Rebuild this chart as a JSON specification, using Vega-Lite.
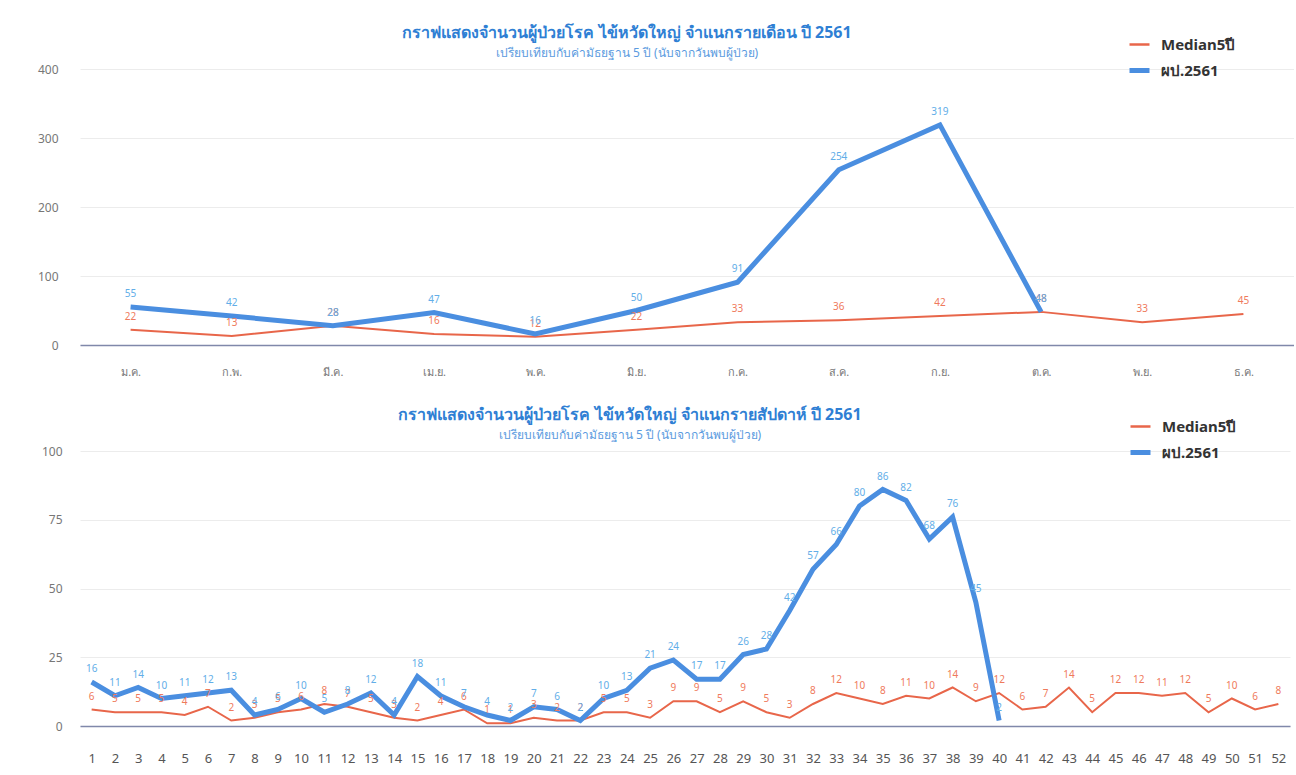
{
  "$schema": "https://vega.github.io/schema/vega-lite/v6.json",
  "padding": {"left": 20, "top": 25, "right": 0, "bottom": 0},
  "background": "white",
  "config": {
    "font": "Noto Sans",
    "view": {"stroke": null},
    "legend": {
      "orient": "none",
      "legendX": 1052,
      "legendY": -32,
      "title": null,
      "labelFontSize": 15,
      "labelFontWeight": "bold",
      "labelColor": "#333333",
      "symbolType": "stroke",
      "symbolSize": 400,
      "symbolStrokeWidth": 3,
      "rowPadding": 7,
      "labelOffset": 14
    }
  },
  "datasets": {
    "monthly": [
      {"month": "ม.ค.", "series": "Median5ปี", "value": 22},
      {"month": "ก.พ.", "series": "Median5ปี", "value": 13},
      {"month": "มี.ค.", "series": "Median5ปี", "value": 28},
      {"month": "เม.ย.", "series": "Median5ปี", "value": 16},
      {"month": "พ.ค.", "series": "Median5ปี", "value": 12},
      {"month": "มิ.ย.", "series": "Median5ปี", "value": 22},
      {"month": "ก.ค.", "series": "Median5ปี", "value": 33},
      {"month": "ส.ค.", "series": "Median5ปี", "value": 36},
      {"month": "ก.ย.", "series": "Median5ปี", "value": 42},
      {"month": "ต.ค.", "series": "Median5ปี", "value": 48},
      {"month": "พ.ย.", "series": "Median5ปี", "value": 33},
      {"month": "ธ.ค.", "series": "Median5ปี", "value": 45},
      {"month": "ม.ค.", "series": "ผป.2561", "value": 55},
      {"month": "ก.พ.", "series": "ผป.2561", "value": 42},
      {"month": "มี.ค.", "series": "ผป.2561", "value": 28},
      {"month": "เม.ย.", "series": "ผป.2561", "value": 47},
      {"month": "พ.ค.", "series": "ผป.2561", "value": 16},
      {"month": "มิ.ย.", "series": "ผป.2561", "value": 50},
      {"month": "ก.ค.", "series": "ผป.2561", "value": 91},
      {"month": "ส.ค.", "series": "ผป.2561", "value": 254},
      {"month": "ก.ย.", "series": "ผป.2561", "value": 319},
      {"month": "ต.ค.", "series": "ผป.2561", "value": 48}
    ],
    "weekly": [
      {"week": 1, "series": "Median5ปี", "value": 6},
      {"week": 2, "series": "Median5ปี", "value": 5},
      {"week": 3, "series": "Median5ปี", "value": 5},
      {"week": 4, "series": "Median5ปี", "value": 5},
      {"week": 5, "series": "Median5ปี", "value": 4},
      {"week": 6, "series": "Median5ปี", "value": 7},
      {"week": 7, "series": "Median5ปี", "value": 2},
      {"week": 8, "series": "Median5ปี", "value": 3},
      {"week": 9, "series": "Median5ปี", "value": 5},
      {"week": 10, "series": "Median5ปี", "value": 6},
      {"week": 11, "series": "Median5ปี", "value": 8},
      {"week": 12, "series": "Median5ปี", "value": 7},
      {"week": 13, "series": "Median5ปี", "value": 5},
      {"week": 14, "series": "Median5ปี", "value": 3},
      {"week": 15, "series": "Median5ปี", "value": 2},
      {"week": 16, "series": "Median5ปี", "value": 4},
      {"week": 17, "series": "Median5ปี", "value": 6},
      {"week": 18, "series": "Median5ปี", "value": 1},
      {"week": 19, "series": "Median5ปี", "value": 1},
      {"week": 20, "series": "Median5ปี", "value": 3},
      {"week": 21, "series": "Median5ปี", "value": 2},
      {"week": 22, "series": "Median5ปี", "value": 2},
      {"week": 23, "series": "Median5ปี", "value": 5},
      {"week": 24, "series": "Median5ปี", "value": 5},
      {"week": 25, "series": "Median5ปี", "value": 3},
      {"week": 26, "series": "Median5ปี", "value": 9},
      {"week": 27, "series": "Median5ปี", "value": 9},
      {"week": 28, "series": "Median5ปี", "value": 5},
      {"week": 29, "series": "Median5ปี", "value": 9},
      {"week": 30, "series": "Median5ปี", "value": 5},
      {"week": 31, "series": "Median5ปี", "value": 3},
      {"week": 32, "series": "Median5ปี", "value": 8},
      {"week": 33, "series": "Median5ปี", "value": 12},
      {"week": 34, "series": "Median5ปี", "value": 10},
      {"week": 35, "series": "Median5ปี", "value": 8},
      {"week": 36, "series": "Median5ปี", "value": 11},
      {"week": 37, "series": "Median5ปี", "value": 10},
      {"week": 38, "series": "Median5ปี", "value": 14},
      {"week": 39, "series": "Median5ปี", "value": 9},
      {"week": 40, "series": "Median5ปี", "value": 12},
      {"week": 41, "series": "Median5ปี", "value": 6},
      {"week": 42, "series": "Median5ปี", "value": 7},
      {"week": 43, "series": "Median5ปี", "value": 14},
      {"week": 44, "series": "Median5ปี", "value": 5},
      {"week": 45, "series": "Median5ปี", "value": 12},
      {"week": 46, "series": "Median5ปี", "value": 12},
      {"week": 47, "series": "Median5ปี", "value": 11},
      {"week": 48, "series": "Median5ปี", "value": 12},
      {"week": 49, "series": "Median5ปี", "value": 5},
      {"week": 50, "series": "Median5ปี", "value": 10},
      {"week": 51, "series": "Median5ปี", "value": 6},
      {"week": 52, "series": "Median5ปี", "value": 8},
      {"week": 1, "series": "ผป.2561", "value": 16},
      {"week": 2, "series": "ผป.2561", "value": 11},
      {"week": 3, "series": "ผป.2561", "value": 14},
      {"week": 4, "series": "ผป.2561", "value": 10},
      {"week": 5, "series": "ผป.2561", "value": 11},
      {"week": 6, "series": "ผป.2561", "value": 12},
      {"week": 7, "series": "ผป.2561", "value": 13},
      {"week": 8, "series": "ผป.2561", "value": 4},
      {"week": 9, "series": "ผป.2561", "value": 6},
      {"week": 10, "series": "ผป.2561", "value": 10},
      {"week": 11, "series": "ผป.2561", "value": 5},
      {"week": 12, "series": "ผป.2561", "value": 8},
      {"week": 13, "series": "ผป.2561", "value": 12},
      {"week": 14, "series": "ผป.2561", "value": 4},
      {"week": 15, "series": "ผป.2561", "value": 18},
      {"week": 16, "series": "ผป.2561", "value": 11},
      {"week": 17, "series": "ผป.2561", "value": 7},
      {"week": 18, "series": "ผป.2561", "value": 4},
      {"week": 19, "series": "ผป.2561", "value": 2},
      {"week": 20, "series": "ผป.2561", "value": 7},
      {"week": 21, "series": "ผป.2561", "value": 6},
      {"week": 22, "series": "ผป.2561", "value": 2},
      {"week": 23, "series": "ผป.2561", "value": 10},
      {"week": 24, "series": "ผป.2561", "value": 13},
      {"week": 25, "series": "ผป.2561", "value": 21},
      {"week": 26, "series": "ผป.2561", "value": 24},
      {"week": 27, "series": "ผป.2561", "value": 17},
      {"week": 28, "series": "ผป.2561", "value": 17},
      {"week": 29, "series": "ผป.2561", "value": 26},
      {"week": 30, "series": "ผป.2561", "value": 28},
      {"week": 31, "series": "ผป.2561", "value": 42},
      {"week": 32, "series": "ผป.2561", "value": 57},
      {"week": 33, "series": "ผป.2561", "value": 66},
      {"week": 34, "series": "ผป.2561", "value": 80},
      {"week": 35, "series": "ผป.2561", "value": 86},
      {"week": 36, "series": "ผป.2561", "value": 82},
      {"week": 37, "series": "ผป.2561", "value": 68},
      {"week": 38, "series": "ผป.2561", "value": 76},
      {"week": 39, "series": "ผป.2561", "value": 45},
      {"week": 40, "series": "ผป.2561", "value": 2}
    ]
  },
  "spacing": 22,
  "resolve": {
    "scale": {"x": "independent", "y": "independent", "color": "independent"},
    "legend": {"color": "independent"}
  },
  "vconcat": [
    {
      "width": 1214,
      "height": 276,
      "data": {"name": "monthly"},
      "title": {
        "text": "กราฟแสดงจำนวนผู้ป่วยโรค ไข้หวัดใหญ่ จำแนกรายเดือน ปี 2561",
        "subtitle": "เปรียบเทียบกับค่ามัธยฐาน 5 ปี (นับจากวันพบผู้ป่วย)",
        "anchor": "middle",
        "frame": "group",
        "dx": -60,
        "fontSize": 16,
        "fontWeight": "bold",
        "color": "#2f7fd4",
        "subtitleFontSize": 12,
        "subtitleColor": "#5b9be0",
        "subtitlePadding": 7,
        "offset": -22
      },
      "encoding": {
        "x": {
          "field": "month",
          "type": "ordinal",
          "sort": ["ม.ค.", "ก.พ.", "มี.ค.", "เม.ย.", "พ.ค.", "มิ.ย.", "ก.ค.", "ส.ค.", "ก.ย.", "ต.ค.", "พ.ย.", "ธ.ค."],
          "axis": {
            "title": null, "labelAngle": 0, "ticks": false, "tickSize": 0,
            "domainColor": "#8088aa", "domainWidth": 1.5,
            "labelPadding": 21, "labelFontSize": 11, "labelColor": "#777777",
            "minExtent": 40, "maxExtent": 40
          }
        },
        "y": {
          "field": "value",
          "type": "quantitative",
          "scale": {"domain": [0, 400], "nice": false},
          "axis": {
            "title": null, "domain": false, "ticks": false, "tickSize": 0,
            "values": [0, 100, 200, 300, 400],
            "gridColor": "#ececec", "labelPadding": 22,
            "labelFontSize": 12, "labelColor": "#777777",
            "minExtent": 60, "maxExtent": 60
          }
        }
      },
      "layer": [
        {
          "mark": {"type": "line"},
          "encoding": {
            "color": {
              "field": "series", "type": "nominal",
              "scale": {"domain": ["Median5ปี", "ผป.2561"], "range": ["#e8664a", "#4a8ee0"]},
              "legend": {"encode": {"symbols": {"update": {"strokeWidth": {"signal": "datum.value === 'ผป.2561' ? 5 : 2.5"}}}}}
            },
            "strokeWidth": {"condition": {"test": "datum.series === 'ผป.2561'", "value": 5}, "value": 2}
          }
        },
        {
          "mark": {"type": "text", "baseline": "bottom", "dy": -8, "fontSize": 10},
          "encoding": {
            "text": {"field": "value", "type": "quantitative"},
            "color": {"condition": {"test": "datum.series === 'ผป.2561'", "value": "#62aee8"}, "value": "#ef7a5c"}
          }
        }
      ]
    },
    {
      "width": 1210,
      "height": 275,
      "data": {"name": "weekly"},
      "title": {
        "text": "กราฟแสดงจำนวนผู้ป่วยโรค ไข้หวัดใหญ่ จำแนกรายสัปดาห์ ปี 2561",
        "subtitle": "เปรียบเทียบกับค่ามัธยฐาน 5 ปี (นับจากวันพบผู้ป่วย)",
        "anchor": "middle",
        "frame": "group",
        "dx": -55,
        "fontSize": 16,
        "fontWeight": "bold",
        "color": "#2f7fd4",
        "subtitleFontSize": 12,
        "subtitleColor": "#5b9be0",
        "subtitlePadding": 7,
        "offset": -22
      },
      "encoding": {
        "x": {
          "field": "week",
          "type": "ordinal",
          "axis": {
            "title": null, "labelAngle": 0, "ticks": false, "tickSize": 0,
            "domainColor": "#8088aa", "domainWidth": 1.5,
            "labelPadding": 26, "labelFontSize": 13, "labelColor": "#555555",
            "minExtent": 40, "maxExtent": 40
          }
        },
        "y": {
          "field": "value",
          "type": "quantitative",
          "scale": {"domain": [0, 100], "nice": false},
          "axis": {
            "title": null, "domain": false, "ticks": false, "tickSize": 0,
            "values": [0, 25, 50, 75, 100],
            "gridColor": "#ececec", "labelPadding": 18,
            "labelFontSize": 12, "labelColor": "#777777",
            "minExtent": 56, "maxExtent": 56
          }
        }
      },
      "layer": [
        {
          "mark": {"type": "line"},
          "encoding": {
            "color": {
              "field": "series", "type": "nominal",
              "scale": {"domain": ["Median5ปี", "ผป.2561"], "range": ["#e8664a", "#4a8ee0"]},
              "legend": {"legendX": 1053, "encode": {"symbols": {"update": {"strokeWidth": {"signal": "datum.value === 'ผป.2561' ? 5 : 2.5"}}}}}
            },
            "strokeWidth": {"condition": {"test": "datum.series === 'ผป.2561'", "value": 5}, "value": 2}
          }
        },
        {
          "mark": {"type": "text", "baseline": "bottom", "dy": -8, "fontSize": 10},
          "encoding": {
            "text": {"field": "value", "type": "quantitative"},
            "color": {"condition": {"test": "datum.series === 'ผป.2561'", "value": "#62aee8"}, "value": "#ef7a5c"}
          }
        }
      ]
    }
  ]
}
